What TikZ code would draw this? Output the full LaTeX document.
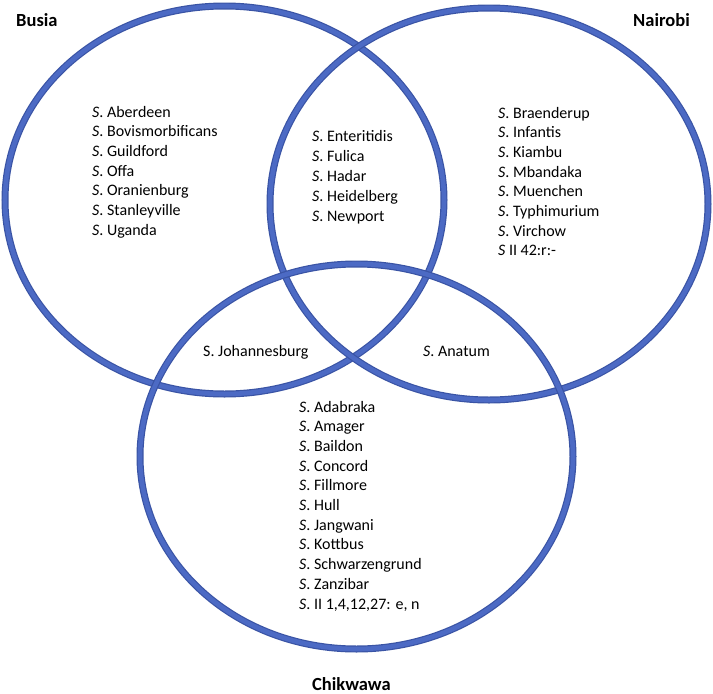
\documentclass[tikz,border=0pt]{standalone}
\usepackage{fontspec}
\setmainfont{Carlito}
\definecolor{ringout}{RGB}{58,84,165}
\definecolor{ringin}{RGB}{76,106,196}
\tikzset{
  ringouter/.style={draw=ringout,line width=7pt},
  ringinner/.style={draw=ringin,line width=4.6pt},
  item/.style={anchor=base west,inner sep=0pt,font=\fontsize{16}{19}\selectfont},
  setlabel/.style={anchor=base west,inner sep=0pt,font=\fontsize{18.5}{22}\selectfont\bfseries}
}
\newcommand{\Sp}{\textit{S}.~}
\begin{document}
\begin{tikzpicture}[x=1pt,y=-1pt]
\useasboundingbox (0,0) rectangle (713,694);
% rings
\foreach \cx/\cy/\rx/\ry in {224.5/200/219.5/194, 489/204/219/196, 356.5/456.5/216.5/192.5}{
  \draw[ringouter] (\cx,\cy) ellipse [x radius=\rx pt, y radius=\ry pt];
  \draw[ringinner] (\cx,\cy) ellipse [x radius=\rx pt, y radius=\ry pt];
}
% set labels
\node[setlabel] (busia) at (16,26) {Busia};
\node[setlabel] (nairobi) at (633,26) {Nairobi};
\node[setlabel] (chikwawa) at (312,690) {Chikwawa};
% Busia only
\foreach \t [count=\i] in {Aberdeen,Bovismorbificans,Guildford,Offa,Oranienburg,Stanleyville,Uganda}
  \node[item] (bu\i) at (92,{117+(\i-1)*19.7}) {\Sp\t};
% Nairobi only
\foreach \t [count=\i] in {Braenderup,Infantis,Kiambu,Mbandaka,Muenchen,Typhimurium,Virchow}
  \node[item] (na\i) at (498,{118+(\i-1)*19.7}) {\Sp\t};
\node[item] (na8) at (498,{118+7*19.7}) {\textit{S} II 42:r:-};
% Busia & Nairobi
\foreach \t [count=\i] in {Enteritidis,Fulica,Hadar,Heidelberg,Newport}
  \node[item] (bn\i) at (312,{141.7+(\i-1)*20}) {\Sp\t};
% pairwise with Chikwawa
\node[item] (bc1) at (203,356) {S. Johannesburg};
\node[item] (nc1) at (423,356) {\Sp Anatum};
% Chikwawa only
\foreach \t [count=\i] in {Adabraka,Amager,Baildon,Concord,Fillmore,Hull,Jangwani,Kottbus,Schwarzengrund,Zanzibar}
  \node[item] (ch\i) at (299,{412+(\i-1)*19.7}) {\Sp\t};
\node[item] (ch11) at (299,{412+10*19.7}) {\Sp II 1,4,12,27: e, n};
\end{tikzpicture}
\end{document}
